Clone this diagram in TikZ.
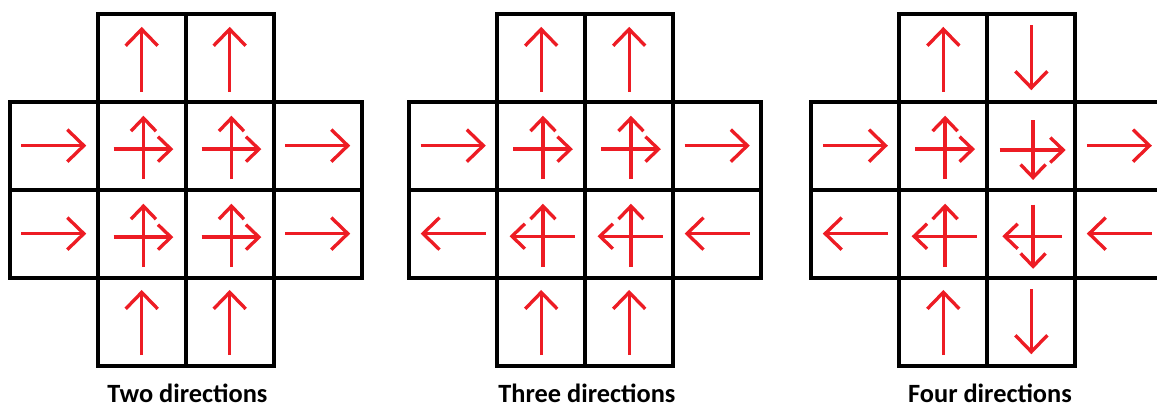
\documentclass[tikz,border=0pt]{standalone}
\usepackage{fontspec}
\setmainfont{Carlito}
\usepackage{tikz}
\usetikzlibrary{arrows.meta}
\definecolor{PaintRed}{HTML}{ED1C24}
\tikzset{
    % Grid lines
    gridline/.style={
        draw=black,
        line width=2.3pt
    },
    % Arrow styles
    bigarrow/.style={
        -{Straight Barb[length=0.33cm,width=0.64cm]},
        line width=1.9pt,
        PaintRed
    },
    smallarrow/.style={
        -{Straight Barb[length=0.26cm,width=0.5cm]},
        line width=1.9pt,
        PaintRed
    },
    caption/.style={
        anchor=base,
        inner sep=0pt,
        font=\bfseries\fontsize{15}{18}\selectfont
    }
}
\begin{document}
\begin{tikzpicture}[x=1.76cm, y=1.76cm]
            \clip (0,0) rectangle (13.148,4.625);
            \useasboundingbox (0,0) rectangle (13.148,4.625);

            % Two directions (left)
            \begin{scope}[shift={(0.11,0.47)}]
                \draw[gridline] (1,0) rectangle (3,4);
                \draw[gridline] (0,1) rectangle (4,3);
                \draw[gridline] (2,0) -- (2,4);
                \draw[gridline] (0,2) -- (4,2);

                % Top and bottom
                \draw[bigarrow] (1.5,3.11) -- (1.5,3.85);
                \draw[bigarrow] (2.5,3.11) -- (2.5,3.85);
                \draw[bigarrow] (1.5,0.12) -- (1.5,0.86);
                \draw[bigarrow] (2.5,0.12) -- (2.5,0.86);

                % Upper row
                \draw[bigarrow] (0.13,2.5) -- (0.87,2.5);
                \draw[smallarrow] (1.52,2.12) -- (1.52,2.84);
                \draw[smallarrow] (1.18,2.46) -- (1.86,2.46);
                \draw[smallarrow] (2.52,2.12) -- (2.52,2.84);
                \draw[smallarrow] (2.18,2.46) -- (2.86,2.46);
                \draw[bigarrow] (3.13,2.5) -- (3.87,2.5);

                % Lower row
                \draw[bigarrow] (0.13,1.5) -- (0.87,1.5);
                \draw[smallarrow] (1.52,1.12) -- (1.52,1.84);
                \draw[smallarrow] (1.18,1.46) -- (1.86,1.46);
                \draw[smallarrow] (2.52,1.12) -- (2.52,1.84);
                \draw[smallarrow] (2.18,1.46) -- (2.86,1.46);
                \draw[bigarrow] (3.13,1.5) -- (3.87,1.5);
            \end{scope}
            \node[caption] (twolabel) at (2.13,0.05) {Two directions};

            % Three directions (middle)
            \begin{scope}[shift={(4.65,0.47)}]
                \draw[gridline] (1,0) rectangle (3,4);
                \draw[gridline] (0,1) rectangle (4,3);
                \draw[gridline] (2,0) -- (2,4);
                \draw[gridline] (0,2) -- (4,2);

                % Top and bottom
                \draw[bigarrow] (1.5,3.11) -- (1.5,3.85);
                \draw[bigarrow] (2.5,3.11) -- (2.5,3.85);
                \draw[bigarrow] (1.5,0.12) -- (1.5,0.86);
                \draw[bigarrow] (2.5,0.12) -- (2.5,0.86);

                % Upper row
                \draw[bigarrow] (0.13,2.5) -- (0.87,2.5);
                \draw[smallarrow] (1.52,2.12) -- (1.52,2.84);
                \draw[smallarrow] (1.18,2.46) -- (1.86,2.46);
                \draw[smallarrow] (2.52,2.12) -- (2.52,2.84);
                \draw[smallarrow] (2.18,2.46) -- (2.86,2.46);
                \draw[bigarrow] (3.13,2.5) -- (3.87,2.5);

                % Lower row
                \draw[bigarrow] (0.87,1.5) -- (0.13,1.5);
                \draw[smallarrow] (1.52,1.12) -- (1.52,1.84);
                \draw[smallarrow] (1.88,1.47) -- (1.14,1.47);
                \draw[smallarrow] (2.52,1.12) -- (2.52,1.84);
                \draw[smallarrow] (2.88,1.47) -- (2.14,1.47);
                \draw[bigarrow] (3.87,1.5) -- (3.13,1.5);
            \end{scope}
            \node[caption] (threelabel) at (6.67,0.05) {Three directions};

            % Four directions (right)
            \begin{scope}[shift={(9.22,0.47)}]
                \draw[gridline] (1,0) rectangle (3,4);
                \draw[gridline] (0,1) rectangle (4,3);
                \draw[gridline] (2,0) -- (2,4);
                \draw[gridline] (0,2) -- (4,2);

                % Top and bottom
                \draw[bigarrow] (1.5,3.11) -- (1.5,3.85);
                \draw[bigarrow] (2.5,3.87) -- (2.5,3.13);
                \draw[bigarrow] (1.5,0.12) -- (1.5,0.86);
                \draw[bigarrow] (2.5,0.87) -- (2.5,0.13);

                % Upper row
                \draw[bigarrow] (0.13,2.5) -- (0.87,2.5);
                \draw[smallarrow] (1.52,2.12) -- (1.52,2.84);
                \draw[smallarrow] (1.18,2.46) -- (1.86,2.46);
                \draw[smallarrow] (2.52,2.79) -- (2.52,2.11);
                \draw[smallarrow] (2.14,2.45) -- (2.89,2.45);
                \draw[bigarrow] (3.13,2.5) -- (3.87,2.5);

                % Lower row
                \draw[bigarrow] (0.87,1.5) -- (0.13,1.5);
                \draw[smallarrow] (1.52,1.12) -- (1.52,1.84);
                \draw[smallarrow] (1.88,1.47) -- (1.14,1.47);
                \draw[smallarrow] (2.52,1.83) -- (2.52,1.10);
                \draw[smallarrow] (2.85,1.47) -- (2.17,1.47);
                \draw[bigarrow] (3.87,1.5) -- (3.13,1.5);
            \end{scope}
            \node[caption] (fourlabel) at (11.25,0.05) {Four directions};
\end{tikzpicture}
\end{document}
